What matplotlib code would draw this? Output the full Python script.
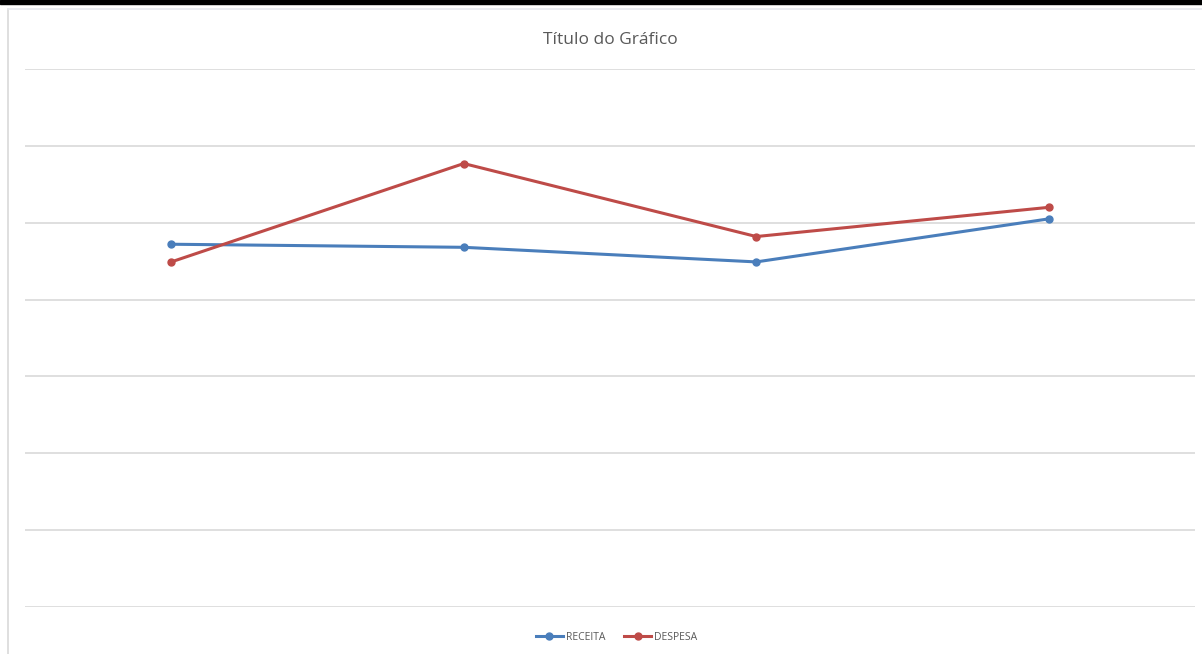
import matplotlib
matplotlib.use("Agg")
import matplotlib.pyplot as plt
from matplotlib.lines import Line2D
from matplotlib.patches import Rectangle

categories = ["1", "2", "3", "4"]
receita = [4.72, 4.68, 4.49, 5.05]
despesa = [4.49, 5.77, 4.82, 5.20]

plt.rcParams['font.family'] = ['Open Sans', 'DejaVu Sans']

fig = plt.figure(figsize=(12.02, 6.54), dpi=100)
ax = fig.add_axes([25 / 1202, 47 / 654, 1170 / 1202, 538 / 654])

x = range(len(categories))
ax.plot(x, receita, color="#4a7ebb", lw=2.2, marker="o", ms=5, label="RECEITA")
ax.plot(x, despesa, color="#be4b48", lw=2.2, marker="o", ms=5, label="DESPESA")

ax.set_xlim(-0.5, len(categories) - 0.5)
ax.set_ylim(0, 7)
ax.set_yticks(range(0, 8))
ax.grid(axis="y", color="#d9d9d9", lw=1.2)
ax.set_axisbelow(True)
ax.tick_params(left=False, bottom=False, labelleft=False, labelbottom=False)
for s in ax.spines.values():
    s.set_visible(False)

# frame bits: black top bar, light chart-area border
fig.patches.append(Rectangle((0, 1 - 4 / 654), 1, 4 / 654, transform=fig.transFigure,
                             color="black", zorder=5))
fig.lines.append(Line2D([8 / 1202, 8 / 1202], [0, 1 - 9 / 654], transform=fig.transFigure,
                        color="#d9d9d9", lw=1.2))
fig.lines.append(Line2D([8 / 1202, 1], [1 - 9 / 654, 1 - 9 / 654], transform=fig.transFigure,
                        color="#e6e9ef", lw=1.2))

fig.text(0.508, 1 - 40 / 654, "Título do Gráfico", ha="center", va="center",
         fontsize=12.5, color="#595959")

fig.legend(loc="center", bbox_to_anchor=(0.513, 1 - 637 / 654), ncol=2, frameon=False,
           fontsize=7.5, labelcolor="#595959", handlelength=2.6, columnspacing=1.8,
           handletextpad=0.3)

fig.savefig("out.png", dpi=100)
